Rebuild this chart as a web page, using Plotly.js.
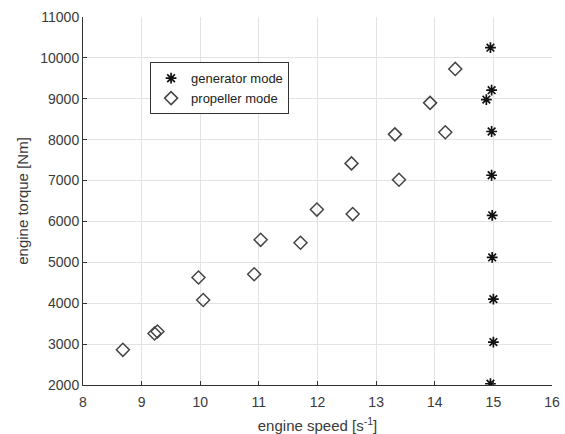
<!DOCTYPE html>
<html>
<head>
<meta charset="utf-8">
<script src="https://cdn.plot.ly/plotly-3.0.1.min.js"></script>
<style>html,body{margin:0;padding:0;background:#fff;}#chart{width:565px;height:434px;}</style>
</head>
<body>
<div id="chart"></div>
<script>
const genSpeed = [14.95, 14.97, 14.88, 14.97, 14.97, 14.98, 14.98, 15.0, 15.0, 14.95];
const genTorque = [10250, 9210, 8980, 8200, 7130, 6150, 5120, 4100, 3050, 2030];
const propSpeed = [8.68, 9.22, 9.27, 9.97, 10.05, 10.92, 11.03, 11.71, 11.99, 12.58, 12.60, 13.32, 13.39, 13.92, 14.18, 14.35];
const propTorque = [2860, 3260, 3310, 4630, 4080, 4710, 5550, 5480, 6290, 7420, 6180, 8130, 7020, 8900, 8180, 9730];
const xTicks = [8, 9, 10, 11, 12, 13, 14, 15, 16];
const yTicks = [2000, 3000, 4000, 5000, 6000, 7000, 8000, 9000, 10000, 11000];
const yTickText = ['2000', '3000', '4000', '5000', '6000', '7000', '8000', '9000', '10000', '11000'];

const FONT = 'Liberation Sans, Arial, sans-serif';
const traces = [
  {x: genSpeed, y: genTorque, type: 'scatter', mode: 'markers', name: 'generator mode',
   marker: {symbol: 'asterisk-open', size: 9, color: '#111', line: {color: '#111', width: 1.7}}},
  {x: propSpeed, y: propTorque, type: 'scatter', mode: 'markers', name: 'propeller mode',
   marker: {symbol: 'diamond-open', size: 10, color: '#444', line: {color: '#444', width: 1.5}}}
];
const axisCommon = {
  showgrid: true, gridcolor: '#e3e3e3', gridwidth: 1,
  zeroline: false, showline: true, linecolor: '#333', linewidth: 1,
  ticks: 'inside', ticklen: 4, tickcolor: '#333',
  tickfont: {family: FONT, size: 14, color: '#3a3a3a'}
};
const layout = {
  width: 565, height: 434,
  margin: {l: 83, r: 13, t: 17, b: 49},
  paper_bgcolor: '#fff', plot_bgcolor: '#fff',
  showlegend: true,
  legend: {x: 0.143, y: 0.877, xanchor: 'left', yanchor: 'top',
    bordercolor: '#333', borderwidth: 1, bgcolor: '#fff',
    font: {family: FONT, size: 13, color: '#222'},
    tracegroupgap: 0, itemwidth: 30},
  xaxis: Object.assign({}, axisCommon, {range: [8, 16], tickvals: xTicks, ticklabelstandoff: 4,
    title: {text: 'engine speed [s<sup>-1</sup>]', standoff: 12,
      font: {family: FONT, size: 15, color: '#3a3a3a'}}}),
  yaxis: Object.assign({}, axisCommon, {range: [2000, 11000], tickvals: yTicks, ticktext: yTickText,
    title: {text: 'engine torque [Nm]', standoff: 8,
      font: {family: FONT, size: 15, color: '#3a3a3a'}}})
};
Plotly.newPlot('chart', traces, layout, {staticPlot: true, displayModeBar: false});
</script>
</body>
</html>
